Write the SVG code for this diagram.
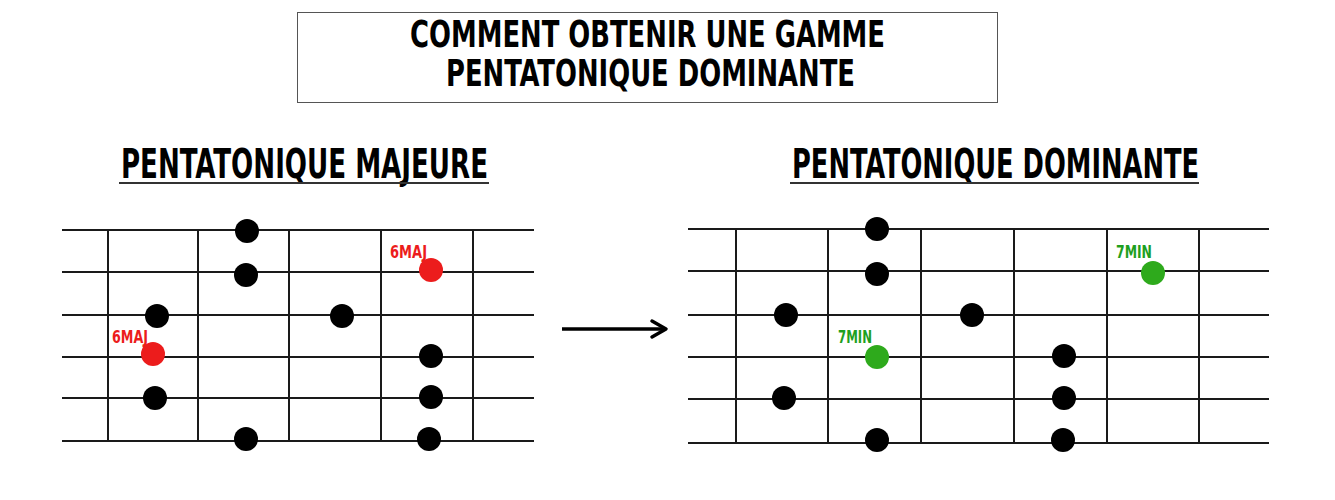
<svg xmlns="http://www.w3.org/2000/svg" width="1335" height="500" viewBox="0 0 1335 500">
  <style>
    .title { font-family: "Liberation Sans Narrow", "DejaVu Sans Condensed", "Liberation Sans", sans-serif; font-weight: bold; fill: #000; }
    .string { stroke: #1a1a1a; stroke-width: 2; }
    .fret { stroke: #1a1a1a; stroke-width: 2; }
    .dot { fill: #000; }
    .red { fill: #ec1c1c; }
    .green { fill: #2eaa1c; }
    .lbl { font-family: "Liberation Sans Narrow", "DejaVu Sans Condensed", "Liberation Sans", sans-serif; font-weight: bold; font-size: 17px; }
    .ul { stroke: #333; stroke-width: 2; }
  </style>
  <rect width="1335" height="500" fill="#fff"/>

  <g id="header">
    <rect x="297.5" y="12.5" width="700" height="90" fill="#fff" stroke="#555" stroke-width="1"/>
    <text class="title" x="410" y="47" font-size="38" textLength="475" lengthAdjust="spacingAndGlyphs">COMMENT OBTENIR UNE GAMME</text>
    <text class="title" x="446" y="86" font-size="38" textLength="409" lengthAdjust="spacingAndGlyphs">PENTATONIQUE DOMINANTE</text>
  </g>

  <g id="left-diagram">
    <text class="title" x="121" y="178" font-size="41" textLength="367" lengthAdjust="spacingAndGlyphs">PENTATONIQUE MAJEURE</text>
    <line class="ul" x1="119" y1="183" x2="489" y2="183"/>
    <g id="left-strings">
      <line class="string" x1="62" y1="230" x2="534" y2="230"/>
      <line class="string" x1="62" y1="272" x2="534" y2="272"/>
      <line class="string" x1="62" y1="315" x2="534" y2="315"/>
      <line class="string" x1="62" y1="357" x2="534" y2="357"/>
      <line class="string" x1="62" y1="398" x2="534" y2="398"/>
      <line class="string" x1="62" y1="441" x2="534" y2="441"/>
    </g>
    <g id="left-frets">
      <line class="fret" x1="108" y1="230" x2="108" y2="441"/>
      <line class="fret" x1="198" y1="230" x2="198" y2="441"/>
      <line class="fret" x1="289" y1="230" x2="289" y2="441"/>
      <line class="fret" x1="381" y1="230" x2="381" y2="441"/>
      <line class="fret" x1="473" y1="230" x2="473" y2="441"/>
    </g>
    <g id="left-dots">
      <circle class="dot" cx="247" cy="231" r="12"/>
      <circle class="dot" cx="246" cy="275" r="12"/>
      <circle class="dot" cx="157" cy="316" r="12"/>
      <circle class="red" cx="153" cy="354" r="12"/>
      <circle class="dot" cx="155" cy="398" r="12"/>
      <circle class="dot" cx="246" cy="439" r="12"/>
      <circle class="dot" cx="342" cy="316" r="12"/>
      <circle class="red" cx="431" cy="270" r="12"/>
      <circle class="dot" cx="431" cy="356" r="12"/>
      <circle class="dot" cx="431" cy="397" r="12"/>
      <circle class="dot" cx="429" cy="439" r="12"/>
    </g>
    <text class="lbl" x="112" y="343" fill="#ec1c1c" textLength="36" lengthAdjust="spacingAndGlyphs">6MAJ</text>
    <text class="lbl" x="390" y="258" fill="#ec1c1c" textLength="37" lengthAdjust="spacingAndGlyphs">6MAJ</text>
  </g>

  <g id="connectors">
    <line x1="562" y1="329" x2="665" y2="329" stroke="#000" stroke-width="3.5"/>
    <polyline points="652,321 666,329 652,337" fill="none" stroke="#000" stroke-width="3.5" stroke-linecap="round" stroke-linejoin="round"/>
  </g>

  <g id="right-diagram">
    <text class="title" x="792" y="178" font-size="41" textLength="407" lengthAdjust="spacingAndGlyphs">PENTATONIQUE DOMINANTE</text>
    <line class="ul" x1="790" y1="183" x2="1199" y2="183"/>
    <g id="right-strings">
      <line class="string" x1="688" y1="229" x2="1269" y2="229"/>
      <line class="string" x1="688" y1="271" x2="1269" y2="271"/>
      <line class="string" x1="688" y1="315" x2="1269" y2="315"/>
      <line class="string" x1="688" y1="357" x2="1269" y2="357"/>
      <line class="string" x1="688" y1="399" x2="1269" y2="399"/>
      <line class="string" x1="688" y1="443" x2="1269" y2="443"/>
    </g>
    <g id="right-frets">
      <line class="fret" x1="736" y1="229" x2="736" y2="443"/>
      <line class="fret" x1="828" y1="229" x2="828" y2="443"/>
      <line class="fret" x1="921" y1="229" x2="921" y2="443"/>
      <line class="fret" x1="1014" y1="229" x2="1014" y2="443"/>
      <line class="fret" x1="1107" y1="229" x2="1107" y2="443"/>
      <line class="fret" x1="1199" y1="229" x2="1199" y2="443"/>
    </g>
    <g id="right-dots">
      <circle class="dot" cx="877" cy="229" r="12"/>
      <circle class="dot" cx="877" cy="274" r="12"/>
      <circle class="dot" cx="786" cy="315" r="12"/>
      <circle class="dot" cx="972" cy="315" r="12"/>
      <circle class="green" cx="877" cy="357" r="12"/>
      <circle class="dot" cx="784" cy="398" r="12"/>
      <circle class="dot" cx="877" cy="440" r="12"/>
      <circle class="green" cx="1153" cy="273" r="12"/>
      <circle class="dot" cx="1064" cy="356" r="12"/>
      <circle class="dot" cx="1064" cy="398" r="12"/>
      <circle class="dot" cx="1063" cy="440" r="12"/>
    </g>
    <text class="lbl" x="838" y="343" fill="#1ea01e" textLength="34" lengthAdjust="spacingAndGlyphs">7MIN</text>
    <text class="lbl" x="1116" y="258" fill="#1ea01e" textLength="36" lengthAdjust="spacingAndGlyphs">7MIN</text>
  </g>
</svg>
